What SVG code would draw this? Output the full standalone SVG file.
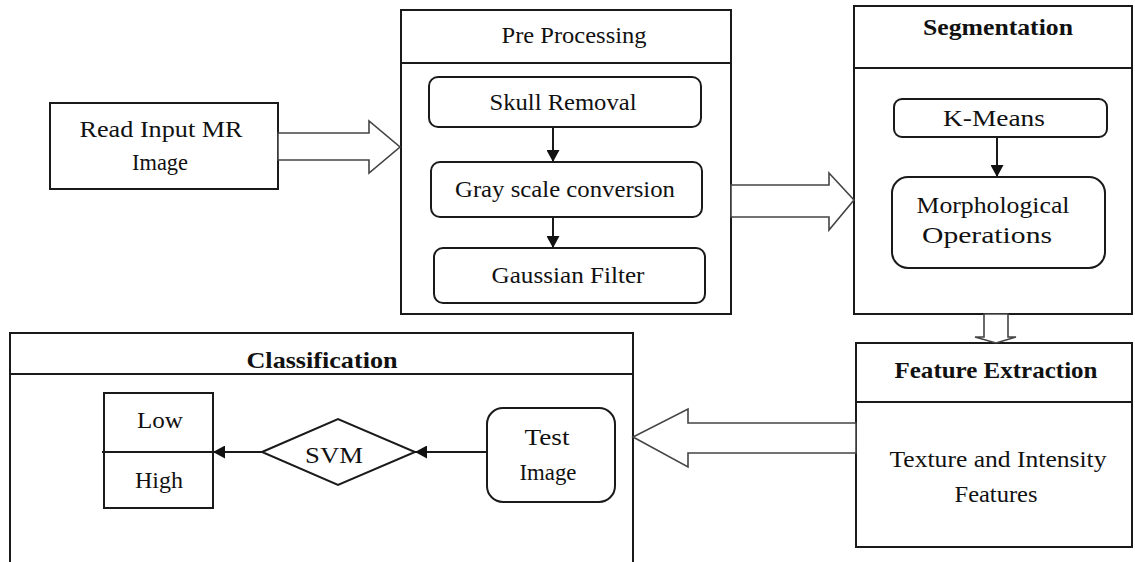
<svg xmlns="http://www.w3.org/2000/svg" width="1135" height="562" viewBox="0 0 1135 562">
<style>
text{font-family:"Liberation Serif","Times New Roman",serif;font-size:23px;fill:#111;text-anchor:middle}
.b{font-weight:bold}
.box{fill:#fff;stroke:#1a1a1a;stroke-width:2}
.blk{fill:#fff;stroke:#444;stroke-width:1.6;stroke-linejoin:miter}
.ln{fill:none;stroke:#1a1a1a;stroke-width:2}
</style>
<defs>
<marker id="ah" markerWidth="12" markerHeight="13" refX="12" refY="6.5" orient="auto" markerUnits="userSpaceOnUse">
<path d="M0,0 L12,6.5 L0,13 Z" fill="#111"/>
</marker>
</defs>
<rect width="1135" height="562" fill="#fff"/>

<g id="read-input">
<rect class="box" x="50" y="103" width="228" height="86"/>
<text x="161" y="137" textLength="163" lengthAdjust="spacingAndGlyphs">Read Input MR</text>
<text x="160" y="170" textLength="56" lengthAdjust="spacingAndGlyphs">Image</text>
</g>

<g id="pre-processing">
<rect class="box" x="401" y="10" width="330" height="304"/>
<line class="ln" x1="401" y1="63" x2="731" y2="63"/>
<text x="574" y="43" textLength="145" lengthAdjust="spacingAndGlyphs">Pre Processing</text>
</g>
<g id="skull-removal">
<rect class="box" x="429" y="77" width="272" height="50" rx="9"/>
<text x="563" y="110" textLength="147" lengthAdjust="spacingAndGlyphs">Skull Removal</text>
</g>
<g id="gray-scale">
<rect class="box" x="431" y="162" width="271" height="55" rx="9"/>
<text x="565" y="197" textLength="220" lengthAdjust="spacingAndGlyphs">Gray scale conversion</text>
</g>
<g id="gaussian">
<rect class="box" x="434" y="248" width="271" height="55" rx="9"/>
<text x="568" y="283" textLength="153" lengthAdjust="spacingAndGlyphs">Gaussian Filter</text>
</g>

<g id="segmentation">
<rect class="box" x="854" y="6" width="278" height="308"/>
<line class="ln" x1="854" y1="68" x2="1132" y2="68"/>
<text class="b" x="998" y="35" textLength="150" lengthAdjust="spacingAndGlyphs">Segmentation</text>
</g>
<g id="k-means">
<rect class="box" x="894" y="99" width="213" height="38" rx="8"/>
<text x="994" y="126" textLength="102" lengthAdjust="spacingAndGlyphs">K-Means</text>
</g>
<g id="morphological">
<rect class="box" x="892" y="177" width="213" height="91" rx="16"/>
<text x="993" y="213" textLength="153" lengthAdjust="spacingAndGlyphs">Morphological</text>
<text x="987" y="243" textLength="130" lengthAdjust="spacingAndGlyphs">Operations</text>
</g>

<g id="feature-extraction">
<rect class="box" x="856" y="343" width="276" height="204"/>
<line class="ln" x1="856" y1="402" x2="1132" y2="402"/>
<text class="b" x="996" y="378" textLength="203" lengthAdjust="spacingAndGlyphs">Feature Extraction</text>
<text x="998" y="467" textLength="217" lengthAdjust="spacingAndGlyphs">Texture and Intensity</text>
<text x="996" y="502" textLength="83" lengthAdjust="spacingAndGlyphs">Features</text>
</g>

<g id="classification">
<path class="box" d="M10,562 L10,333 L633,333 L633,562"/>
<line class="ln" x1="10" y1="374" x2="633" y2="374"/>
<text class="b" x="322" y="368" textLength="151" lengthAdjust="spacingAndGlyphs">Classification</text>
</g>
<g id="low-high">
<rect class="box" x="104" y="393" width="109" height="115"/>
<line class="ln" x1="102" y1="452" x2="213" y2="452"/>
<text x="160" y="428" textLength="46" lengthAdjust="spacingAndGlyphs">Low</text>
<text x="159" y="488" textLength="48" lengthAdjust="spacingAndGlyphs">High</text>
</g>
<g id="svm">
<polygon class="box" points="262,452 338,419 415,452 338,485"/>
<text x="334" y="463" textLength="58" lengthAdjust="spacingAndGlyphs">SVM</text>
</g>
<g id="test-image">
<rect class="box" x="487" y="408" width="128" height="94" rx="16"/>
<text x="547" y="445" textLength="45" lengthAdjust="spacingAndGlyphs">Test</text>
<text x="548" y="480" textLength="57" lengthAdjust="spacingAndGlyphs">Image</text>
</g>

<g id="connectors">
<polygon class="blk" points="278,133 369,133 369,121 400,147 369,173 369,160 278,160"/>
<polygon class="blk" points="731,185 829,185 829,173 854,200 829,230 829,217 731,217"/>
<polygon class="blk" points="856,423 688,423 688,409 633,437 688,467 688,453 856,453"/>
<polygon class="blk" points="984,314 984,337 975,337 996,343 1016,337 1008,337 1008,314"/>
<line class="ln" x1="553" y1="127" x2="553" y2="162" marker-end="url(#ah)"/>
<line class="ln" x1="553" y1="217" x2="553" y2="248" marker-end="url(#ah)"/>
<line class="ln" x1="997" y1="137" x2="997" y2="177" marker-end="url(#ah)"/>
<line class="ln" x1="487" y1="452" x2="415" y2="452" marker-end="url(#ah)"/>
<line class="ln" x1="262" y1="452" x2="213" y2="452" marker-end="url(#ah)"/>
</g>
</svg>
